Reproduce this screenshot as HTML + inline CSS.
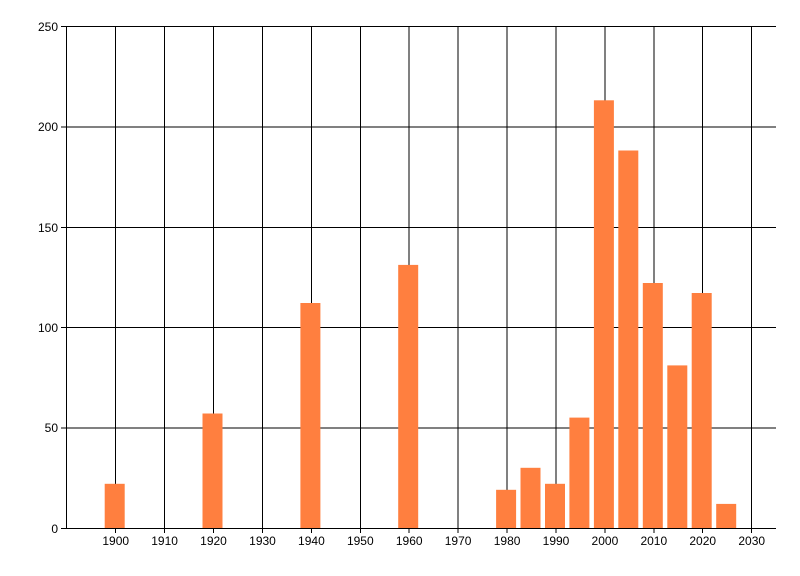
<!DOCTYPE html>
<html><head><meta charset="utf-8"><style>body{margin:0;background:#fff}svg{display:block}text{font-family:"Liberation Sans",sans-serif;font-size:12px;fill:#000}</style></head><body>
<svg width="800" height="576" xmlns="http://www.w3.org/2000/svg">
<g stroke="#000" stroke-width="1" shape-rendering="crispEdges">
<line x1="61" y1="26.5" x2="776" y2="26.5"/>
<line x1="61" y1="126.9" x2="776" y2="126.9"/>
<line x1="61" y1="227.3" x2="776" y2="227.3"/>
<line x1="61" y1="327.7" x2="776" y2="327.7"/>
<line x1="61" y1="428.1" x2="776" y2="428.1"/>
<line x1="61" y1="528.5" x2="776" y2="528.5"/>
<line x1="66.5" y1="26" x2="66.5" y2="528"/>
<line x1="115.7" y1="26" x2="115.7" y2="533"/>
<line x1="164.6" y1="26" x2="164.6" y2="533"/>
<line x1="213.5" y1="26" x2="213.5" y2="533"/>
<line x1="262.5" y1="26" x2="262.5" y2="533"/>
<line x1="311.4" y1="26" x2="311.4" y2="533"/>
<line x1="360.3" y1="26" x2="360.3" y2="533"/>
<line x1="409.2" y1="26" x2="409.2" y2="533"/>
<line x1="458.1" y1="26" x2="458.1" y2="533"/>
<line x1="507.1" y1="26" x2="507.1" y2="533"/>
<line x1="556" y1="26" x2="556" y2="533"/>
<line x1="604.9" y1="26" x2="604.9" y2="533"/>
<line x1="653.8" y1="26" x2="653.8" y2="533"/>
<line x1="702.7" y1="26" x2="702.7" y2="533"/>
<line x1="751.7" y1="26" x2="751.7" y2="533"/>
</g>
<g fill="#ff7f3f">
<rect x="104.7" y="483.8" width="20" height="44.2"/>
<rect x="202.5" y="413.5" width="20" height="114.5"/>
<rect x="300.4" y="303" width="20" height="225"/>
<rect x="398.2" y="264.9" width="20" height="263.1"/>
<rect x="496.1" y="489.8" width="20" height="38.2"/>
<rect x="520.5" y="467.8" width="20" height="60.2"/>
<rect x="545" y="483.8" width="20" height="44.2"/>
<rect x="569.4" y="417.6" width="20" height="110.4"/>
<rect x="593.9" y="100.3" width="20" height="427.7"/>
<rect x="618.3" y="150.5" width="20" height="377.5"/>
<rect x="642.8" y="283" width="20" height="245"/>
<rect x="667.3" y="365.4" width="20" height="162.6"/>
<rect x="691.7" y="293" width="20" height="235"/>
<rect x="716.2" y="503.9" width="20" height="24.1"/>
</g>
<g text-anchor="end">
<text x="58" y="31">250</text><text x="58" y="131">200</text><text x="58" y="232">150</text><text x="58" y="332">100</text><text x="58" y="432">50</text><text x="58" y="533">0</text>
</g>
<g text-anchor="middle">
<text x="115.7" y="545">1900</text><text x="164.6" y="545">1910</text><text x="213.5" y="545">1920</text><text x="262.5" y="545">1930</text><text x="311.4" y="545">1940</text><text x="360.3" y="545">1950</text><text x="409.2" y="545">1960</text><text x="458.1" y="545">1970</text><text x="507.1" y="545">1980</text><text x="556" y="545">1990</text><text x="604.9" y="545">2000</text><text x="653.8" y="545">2010</text><text x="702.7" y="545">2020</text><text x="751.7" y="545">2030</text>
</g>
</svg>
</body></html>
